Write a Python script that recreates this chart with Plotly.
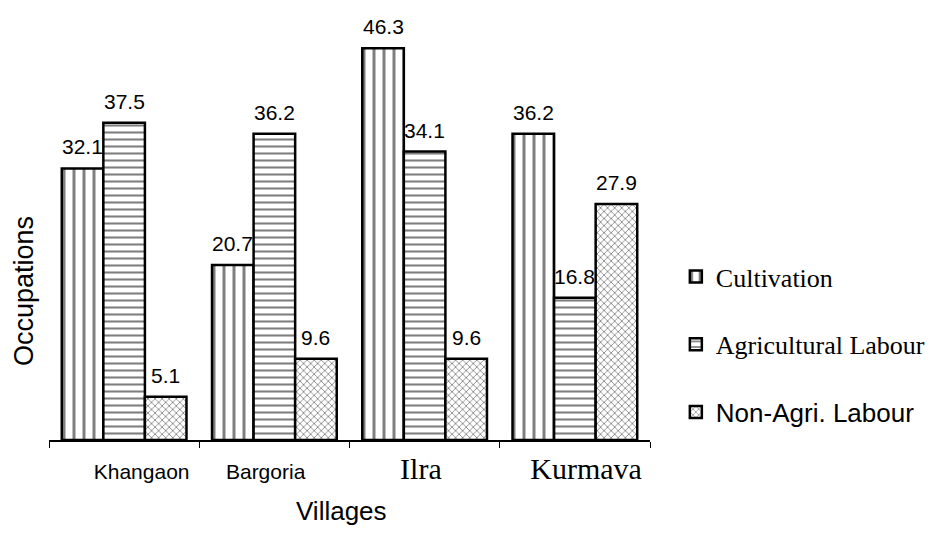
import plotly.graph_objects as go

villages = ["Khangaon", "Bargoria", "Ilra", "Kurmava"]
NB = "\u00a0"
tick_labels = [
    NB * 6 + "Khangaon",
    "Bargoria" + NB * 3,
    "<span style='font-family:Liberation Serif;font-size:30px'>Ilra" + NB + "</span>",
    "<span style='font-family:Liberation Serif;font-size:30px'>" + NB * 3 + "Kurmava</span>",
]
cultivation = [32.1, 20.7, 46.3, 36.2]
agri_labour = [37.5, 36.2, 34.1, 16.8]
non_agri_labour = [5.1, 9.6, 9.6, 27.9]
legend_labels = [
    "Cultivation",
    "Agricultural Labour",
    "<span style='font-family:Liberation Sans'>Non-Agri. Labour</span>",
]

series = [
    (legend_labels[0], cultivation, "|", 10),
    (legend_labels[1], agri_labour, "-", 7),
    (legend_labels[2], non_agri_labour, "x", 5),
]

W, H = 942, 535
ML, MR, MT, MB = 49, 292, 17, 95
BARGAP = 0.17
plot_w = W - ML - MR
bar_px = plot_w / len(villages) * (1 - BARGAP) / len(series)

fig = go.Figure()
annotations = []
for i, (name, vals, shape, psize) in enumerate(series):
    fig.add_trace(go.Bar(
        x=villages, y=vals, name=name, legendgroup=str(i),
        marker=dict(color="white", line=dict(color="black", width=2.5),
                    pattern=dict(shape=shape, fgcolor="black", bgcolor="white",
                                 size=psize, solidity=0.3)),
    ))
    for v, val in zip(villages, vals):
        annotations.append(dict(
            x=v, y=val, xref="x", yref="y", text=str(val), showarrow=False,
            xshift=(i - (len(series) - 1) / 2) * bar_px, yanchor="bottom", yshift=8,
            font=dict(family="Liberation Sans, Arial", size=21, color="black"),
        ))

annotations.append(dict(
    text="Occupations", xref="paper", yref="paper", x=(24 - ML) / plot_w, y=0.352,
    textangle=-90, showarrow=False, xanchor="center", yanchor="middle",
    font=dict(family="Liberation Sans, Arial", size=27, color="black"),
))
annotations.append(dict(
    text="Villages", xref="paper", yref="paper", x=(341 - ML) / plot_w, y=-0.168,
    showarrow=False, xanchor="center", yanchor="middle",
    font=dict(family="Liberation Sans, Arial", size=26, color="black"),
))

fig.update_layout(
    width=W, height=H,
    paper_bgcolor="white", plot_bgcolor="white",
    margin=dict(l=ML, r=MR, t=MT, b=MB, autoexpand=False),
    barmode="group", bargap=BARGAP, bargroupgap=0,
    font=dict(family="Liberation Sans, Arial", color="black"),
    showlegend=True,
    legend=dict(x=1.043, y=0.442, xanchor="left", yanchor="top",
                font=dict(family="Liberation Serif, Times New Roman", size=26, color="black"),
                tracegroupgap=31, itemwidth=30, bgcolor="rgba(0,0,0,0)"),
    annotations=annotations,
)
fig.update_xaxes(
    tickvals=villages, ticktext=tick_labels, automargin=False,
    tickfont=dict(family="Liberation Sans, Arial", size=21, color="black"),
    ticklabelstandoff=12,
    showline=True, linecolor="black", linewidth=1.5,
    ticks="outside", tickson="boundaries", ticklen=6, tickcolor="black",
    showgrid=False,
)
fig.update_yaxes(
    range=[0, 50], showticklabels=False, showgrid=False, zeroline=False,
    showline=False, ticks="", automargin=False,
)

fig.write_html("out.html", config={"displayModeBar": False},
               post_script="document.body.style.margin='0';")
